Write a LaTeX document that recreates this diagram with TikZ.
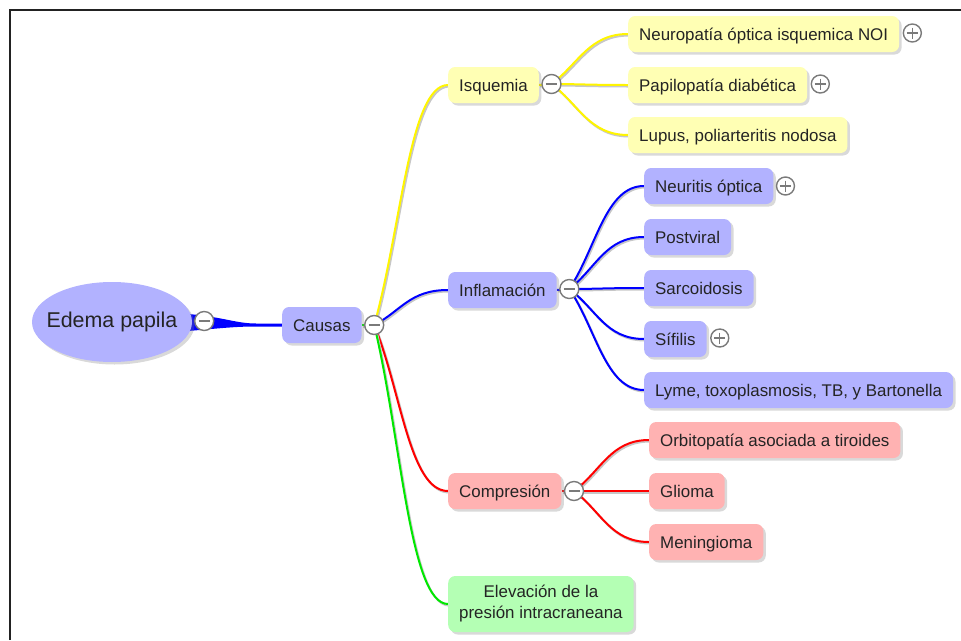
\documentclass[tikz,border=0pt]{standalone}
\usepackage{fontspec}
\setmainfont{Liberation Sans}
\usetikzlibrary{shapes.geometric,shadows,calc}
\pgfdeclarelayer{links}
\pgfsetlayers{links,main}

\definecolor{fillblue}{RGB}{178,178,255}
\definecolor{fillyellow}{RGB}{255,255,180}
\definecolor{fillred}{RGB}{255,178,178}
\definecolor{fillgreen}{RGB}{180,255,180}
\definecolor{linkyellow}{RGB}{255,245,0}
\definecolor{linkblue}{RGB}{0,0,255}
\definecolor{linkred}{RGB}{255,0,0}
\definecolor{linkgreen}{RGB}{0,232,0}
\definecolor{inktext}{RGB}{36,36,36}
\definecolor{togglegray}{RGB}{122,122,122}
\definecolor{framegray}{RGB}{34,34,34}

\begin{document}
\begin{tikzpicture}[x=1pt,y=-1pt,
  font=\fontsize{16.9}{21}\selectfont, text=inktext,
  boxbase/.style={rectangle, rounded corners=7pt, anchor=west,
    inner xsep=11pt, inner ysep=2pt,
    drop shadow={shadow xshift=2.5pt, shadow yshift=-2.5pt, opacity=0.3}},
  box/.style={boxbase, minimum height=36pt, text height=13pt, text depth=1pt},
  togbase/.style={circle, draw=togglegray, line width=1.4pt, fill=white,
    inner sep=0pt},
  togminus/.style={togbase, minimum size=19pt,
    path picture={\draw[togglegray, line width=1.1pt]
      ($(path picture bounding box.center)+(-5.5,0)$) -- +(11,0);}},
  togplus/.style={togbase, minimum size=18pt,
    path picture={\draw[togglegray, line width=1.1pt]
      ($(path picture bounding box.center)+(-5.5,0)$) -- +(11,0)
      ($(path picture bounding box.center)+(0,-5.5)$) -- +(0,11);}},
  link/.style={line width=2pt,
    preaction={draw=black!22, line width=2pt,
      transform canvas={shift={(1.2pt,-1.5pt)}}}}
]
\useasboundingbox (0,0) rectangle (961,640);

% frame edges
\draw[framegray, line width=2pt] (9.5,640) -- (9.5,9.5) -- (961,9.5);

% central topic (label in a zero-width box so the ellipse keeps its size)
\node[ellipse, fill=fillblue, minimum width=160pt, minimum height=80pt,
  inner sep=0pt, font=\fontsize{21.4}{25}\selectfont,
  drop shadow={shadow xshift=2.5pt, shadow yshift=-2.5pt, opacity=0.3}]
  (edema) at (112,322) {\makebox[0pt]{Edema papila}};

% first level
\node[box, fill=fillblue] (causas) at (282,325) {Causas};

% main branches
\node[box, fill=fillyellow] (isq)  at (448,85)  {Isquemia};
\node[box, fill=fillblue]   (infl) at (448,290) {Inflamación};
\node[box, fill=fillred]    (comp) at (448,491) {Compresión};
\node[boxbase, fill=fillgreen, align=center, minimum height=56pt]
  (elev) at (448,604) {Elevación de la\\presión intracraneana};

% ischemic causes
\node[box, fill=fillyellow] (noi)   at (628,34)  {Neuropatía óptica isquemica NOI};
\node[box, fill=fillyellow] (papi)  at (628,85)  {Papilopatía diabética};
\node[box, fill=fillyellow] (lupus) at (628,135) {Lupus, poliarteritis nodosa};

% inflammatory causes
\node[box, fill=fillblue] (neur)  at (644,186) {Neuritis óptica};
\node[box, fill=fillblue] (postv) at (644,237) {Postviral};
\node[box, fill=fillblue] (sarc)  at (644,288) {Sarcoidosis};
\node[box, fill=fillblue] (sif)   at (644,339) {Sífilis};
\node[box, fill=fillblue] (lyme)  at (644,390) {Lyme, toxoplasmosis, TB, y Bartonella};

% compressive causes
\node[box, fill=fillred] (orbi) at (649,440) {Orbitopatía asociada a tiroides};
\node[box, fill=fillred] (glio) at (649,491) {Glioma};
\node[box, fill=fillred] (meni) at (649,542) {Meningioma};

% collapse toggles
\node[togminus] (m0) at ($(edema.east)+(12,-1)$) {};
\node[togminus] (m1) at ($(causas.east)+(12.5,0)$) {};
\node[togminus] (m2) at ($(isq.east)+(12.5,-1)$) {};
\node[togminus] (m3) at ($(infl.east)+(12.5,-1)$) {};
\node[togminus] (m4) at ($(comp.east)+(12.5,0)$) {};

% expand toggles
\node[togplus] (pnoi)  at ($(noi.east)+(13,-1)$) {};
\node[togplus] (ppapi) at ($(papi.east)+(13,-1)$) {};
\node[togplus] (pneur) at ($(neur.east)+(12,0)$) {};
\node[togplus] (psif)  at ($(sif.east)+(13,-1)$) {};

\begin{pgfonlayer}{links}
  % tapered trunk from the central topic
  \fill[linkblue]
    ($(edema.east)+(-4,-8)$) .. controls +(35,3) and +(-20,0) ..
    ($(causas.west)+(-26,-1.5)$) -- ($(causas.west)+(0,-1.5)$) --
    ($(causas.west)+(0,1.5)$) -- ($(causas.west)+(-26,1.5)$)
    .. controls +(-20,0) and +(35,-3) .. ($(edema.east)+(-4,9)$) -- cycle;

  % stubs into the toggles
  \draw[link, linkgreen]  (causas.east) -- (m1.center);
  \draw[link, linkyellow] (isq.east)  -- (m2.center);
  \draw[link, linkblue]   (infl.east) -- (m3.center);
  \draw[link, linkred]    (comp.east) -- (m4.center);

  % Causas to the four branches
  \draw[link, linkyellow] (m1.center) .. controls +(27,-96) and +(-38.5,0) .. (isq.west);
  \draw[link, linkblue]   (m1.center) .. controls +(27,-14) and +(-38.5,0) .. (infl.west);
  \draw[link, linkred]    (m1.center) .. controls +(27,66)  and +(-38.5,0) .. (comp.west);
  \draw[link, linkgreen]  (m1.center) .. controls +(27,112) and +(-38.5,0) .. (elev.west);

  % ischemic branch
  \draw[link, linkyellow] (m2.center) .. controls +(27,-20) and +(-39,0) .. (noi.west);
  \draw[link, linkyellow] (m2.center) .. controls +(27,0)   and +(-39,0) .. (papi.west);
  \draw[link, linkyellow] (m2.center) .. controls +(27,20)  and +(-39,0) .. (lupus.west);

  % inflammatory branch
  \draw[link, linkblue] (m3.center) .. controls +(27,-41) and +(-38.5,0) .. (neur.west);
  \draw[link, linkblue] (m3.center) .. controls +(27,-21) and +(-38.5,0) .. (postv.west);
  \draw[link, linkblue] (m3.center) .. controls +(27,0)   and +(-38.5,0) .. (sarc.west);
  \draw[link, linkblue] (m3.center) .. controls +(27,20)  and +(-38.5,0) .. (sif.west);
  \draw[link, linkblue] (m3.center) .. controls +(27,40)  and +(-38.5,0) .. (lyme.west);

  % compressive branch
  \draw[link, linkred] (m4.center) .. controls +(27,-20) and +(-38.5,0) .. (orbi.west);
  \draw[link, linkred] (m4.center) .. controls +(27,0)   and +(-38.5,0) .. (glio.west);
  \draw[link, linkred] (m4.center) .. controls +(27,20)  and +(-38.5,0) .. (meni.west);
\end{pgfonlayer}
\end{tikzpicture}
\end{document}
